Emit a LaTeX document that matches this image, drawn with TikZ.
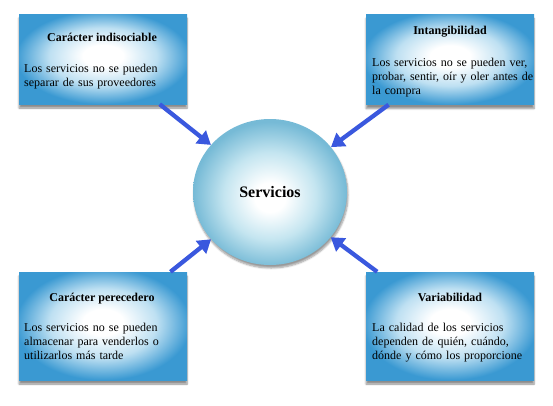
\documentclass[tikz,border=0pt]{standalone}
\usepackage{fontspec}
\setmainfont{Liberation Serif}
\usetikzlibrary{arrows.meta,shapes.geometric,shadows.blur}
\definecolor{boxblue}{RGB}{58,153,210}
\definecolor{boxmid}{RGB}{190,224,242}
\definecolor{circblue}{RGB}{118,186,214}
\definecolor{circmid}{RGB}{196,229,240}
\definecolor{arrblue}{RGB}{58,88,222}
\pgfdeclareradialshading{boxshade}{\pgfpoint{0bp}{2bp}}{color(0bp)=(white); color(6bp)=(white); color(16bp)=(boxmid); color(26bp)=(boxblue); color(50bp)=(boxblue)}
\pgfdeclareradialshading{hubshade}{\pgfpoint{0bp}{-2bp}}{color(0bp)=(white); color(5bp)=(white); color(15bp)=(circmid); color(25bp)=(circblue); color(50bp)=(circblue)}
\begin{document}
\begin{tikzpicture}[x=1pt,y=1pt,
  box/.style={rectangle, inner sep=0pt, minimum width=168pt, shading=boxshade,
    blur shadow={shadow xshift=0pt, shadow yshift=-4pt, shadow blur steps=6, shadow opacity=45}},
  hub/.style={ellipse, inner sep=0pt, minimum width=154pt, minimum height=146pt, shading=hubshade,
    blur shadow={shadow xshift=1pt, shadow yshift=-3pt, shadow blur steps=6, shadow opacity=40},
    font=\fontsize{16}{18}\selectfont\bfseries},
  ttl/.style={inner sep=0pt, anchor=base, font=\fontsize{12}{14}\selectfont\bfseries},
  body/.style={inner sep=0pt, anchor=base west, text width=162pt, align=left, font=\fontsize{12}{14}\selectfont},
  arr/.style={draw=arrblue, line width=4.3pt, -{Triangle[length=13pt,width=16pt]}}
]
\useasboundingbox (0,0) rectangle (553,-405);
\node[box, minimum height=90pt] (tl) at (103,-59) {};
\node[box, minimum height=90pt] (tr) at (450,-59.5) {};
\node[box, minimum height=108pt] (bl) at (103,-326) {};
\node[box, minimum height=108pt] (br) at (450,-326) {};
\node[hub] (c) at (270,-192) {Servicios};

\node[ttl] (tlt) at (102,-41) {Carácter indisociable};
\node[body] (tlb) at (24,-72) {Los servicios no se pueden\\separar de sus proveedores};
\node[ttl] (trt) at (450,-34) {Intangibilidad};
\node[body] (trb) at (372,-66) {Los servicios no se pueden ver,\\probar, sentir, oír y oler antes de\\la compra};
\node[ttl] (blt) at (102,-301) {Carácter perecedero};
\node[body] (blb) at (24,-331) {Los servicios no se pueden\\almacenar para venderlos o\\utilizarlos más tarde};
\node[ttl] (brt) at (450,-301) {Variabilidad};
\node[body] (brb) at (372,-331) {La calidad de los servicios\\dependen de quién, cuándo,\\dónde y cómo los proporcione};

\draw[arr] (tl) -- (c);
\draw[arr] (tr) -- (c);
\draw[arr] (bl) -- (c);
\draw[arr] (br) -- (c);
\end{tikzpicture}
\end{document}
